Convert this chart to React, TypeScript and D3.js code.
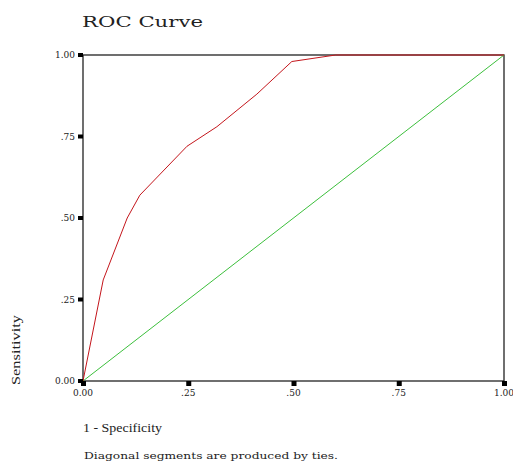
import React from "react"
import { scaleLinear, line } from "d3"

const fprValues = [0, 0.048, 0.105, 0.135, 0.247, 0.318, 0.413, 0.496, 0.6, 1]
const tprValues = [0, 0.31, 0.5, 0.57, 0.72, 0.78, 0.88, 0.98, 1, 1]
const refLine = [0, 1]
const tickValues = [0, 0.25, 0.5, 0.75, 1]
const tickLabels = ["0.00", ".25", ".50", ".75", "1.00"]

const W = 513
const H = 466
const margin = { left: 83, right: 9, top: 55, bottom: 85 }

export default function App() {
  const x = scaleLinear().domain([0, 1]).range([margin.left, W - margin.right])
  const y = scaleLinear().domain([0, 1]).range([H - margin.bottom, margin.top])
  const roc = fprValues.map((f, i) => [f, tprValues[i]] as [number, number])
  const path = line<[number, number]>()
    .x((d) => x(d[0]))
    .y((d) => y(d[1]))
  const font = "'DejaVu Serif', 'Liberation Serif', serif"

  return (
    <svg
      width={W}
      height={H}
      style={{ position: "absolute", left: 0, top: 0, background: "#fff" }}
      fontFamily={font}
    >
      <text x={82} y={27} fontSize={15} fill="#222" textLength={121} lengthAdjust="spacingAndGlyphs">
        ROC Curve
      </text>
      {/* frame */}
      <rect
        x={x(0)}
        y={y(1)}
        width={x(1) - x(0)}
        height={y(0) - y(1)}
        fill="none"
        stroke="#222"
        strokeWidth={1.3}
      />
      {/* reference diagonal */}
      <path
        d={path(refLine.map((v) => [v, v] as [number, number])) ?? ""}
        fill="none"
        stroke="#3cbf3c"
        strokeWidth={1}
      />
      <path d={path(roc) ?? ""} fill="none" stroke="#c4161c" strokeWidth={1} />
      {/* y ticks */}
      {tickValues.map((v, i) => (
        <g key={"y" + i}>
          <rect x={x(0) - 5} y={y(v) - 2} width={5} height={4} fill="#000" />
          <text
            x={x(0) - 8}
            y={y(v)}
            dy="0.35em"
            textAnchor="end"
            fontSize={9}
            fill="#222"
          >
            {tickLabels[i]}
          </text>
        </g>
      ))}
      {/* x ticks */}
      {tickValues.map((v, i) => (
        <g key={"x" + i}>
          <rect x={x(v) - 2} y={y(0)} width={5} height={5} fill="#000" />
          <text
            x={x(v)}
            y={y(0) + 15}
            textAnchor="middle"
            fontSize={9}
            fill="#222"
          >
            {tickLabels[i]}
          </text>
        </g>
      ))}
      <text
        transform={`translate(20,${350}) rotate(-90)`}
        textAnchor="middle"
        fontSize={13}
        fill="#222"
        fontFamily="'Liberation Serif', serif"
        textLength={70}
        lengthAdjust="spacingAndGlyphs"
      >
        Sensitivity
      </text>
      <text x={83} y={432} fontSize={12} fill="#222" fontFamily="'Liberation Serif', serif" textLength={79} lengthAdjust="spacingAndGlyphs">
        1 - Specificity
      </text>
      <text x={84} y={459} fontSize={10} fill="#222" textLength={254} lengthAdjust="spacingAndGlyphs">
        Diagonal segments are produced by ties.
      </text>
    </svg>
  )
}
